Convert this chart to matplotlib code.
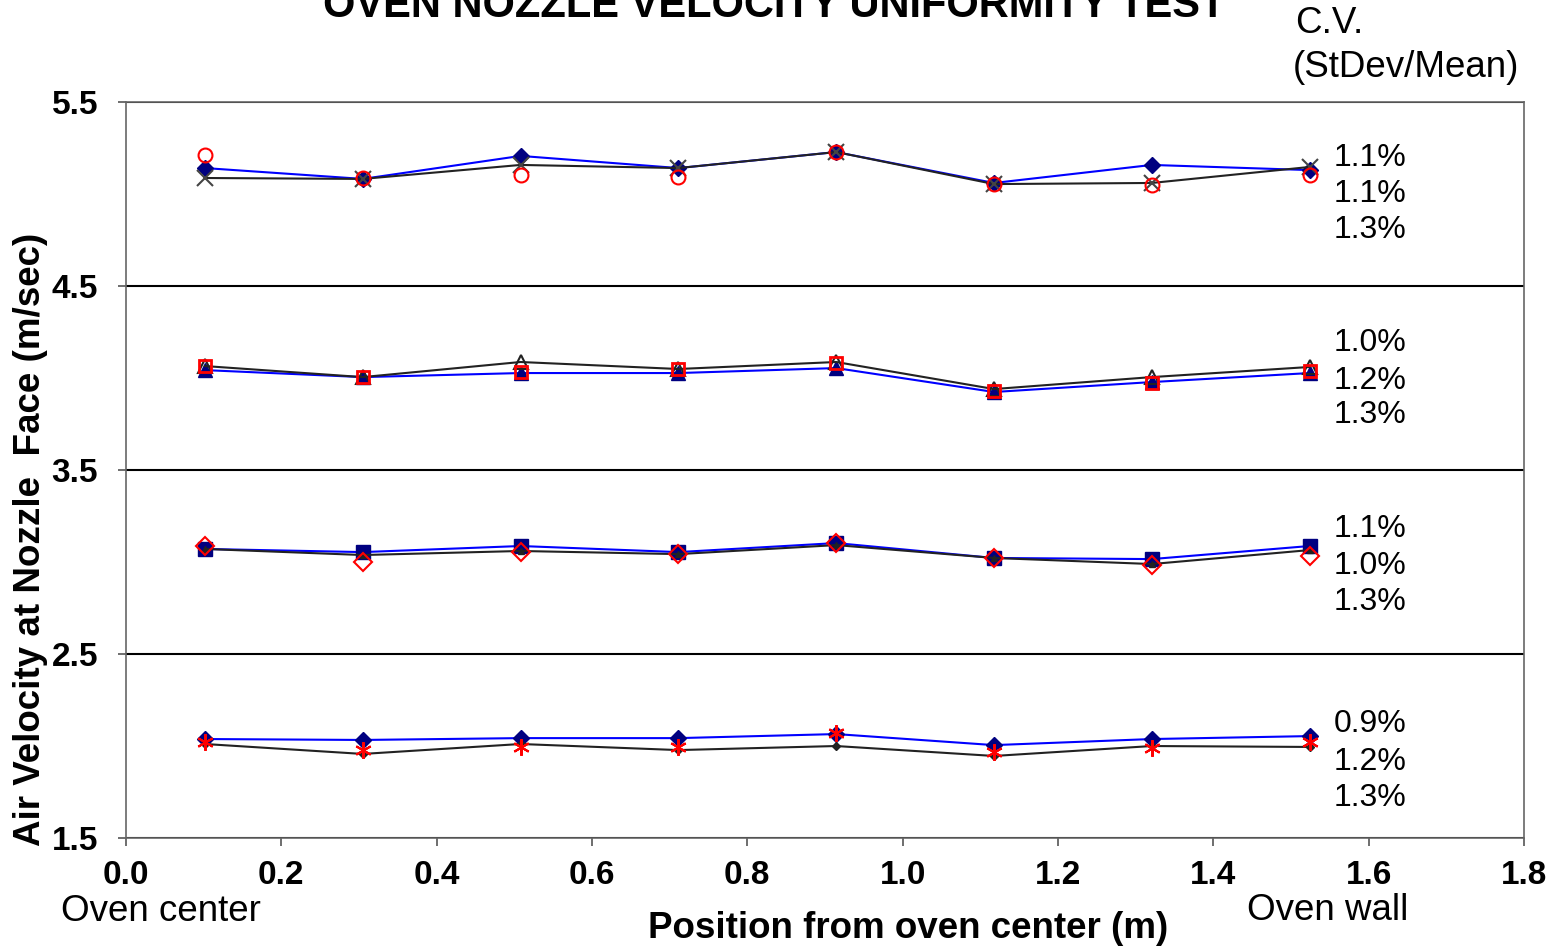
import numpy as np
import matplotlib.pyplot as plt

plt.rcParams['font.family'] = ['Liberation Sans', 'DejaVu Sans']

# Posiciones de medida (m)
x = np.array([0.1016, 0.3048, 0.508, 0.7112, 0.9144, 1.1176, 1.3208, 1.524])

# Grupo 1 (~5.1 m/s)
g1_blue = [5.141, 5.082, 5.207, 5.141, 5.228, 5.060, 5.158, 5.130]
g1_black = [5.087, 5.082, 5.158, 5.141, 5.228, 5.054, 5.060, 5.147]
g1_red = [5.212, 5.087, 5.103, 5.092, 5.228, 5.054, 5.049, 5.103]

# Grupo 2 (~4.0 m/s)
g2_blue = [4.043, 4.005, 4.027, 4.027, 4.054, 3.924, 3.978, 4.027]
g2_black = [4.065, 4.005, 4.087, 4.049, 4.087, 3.940, 4.005, 4.060]
g2_red = [4.065, 4.005, 4.033, 4.049, 4.082, 3.929, 3.973, 4.038]

# Grupo 3 (~3.05 m/s)
g3_blue = [3.071, 3.054, 3.087, 3.054, 3.103, 3.022, 3.016, 3.087]
g3_black = [3.071, 3.038, 3.060, 3.043, 3.092, 3.022, 2.989, 3.065]
g3_red = [3.087, 3.000, 3.054, 3.043, 3.103, 3.022, 2.984, 3.033]

# Grupo 4 (~2.0 m/s)
g4_blue = [2.038, 2.033, 2.043, 2.043, 2.065, 2.005, 2.038, 2.054]
g4_black = [2.011, 1.957, 2.011, 1.978, 2.000, 1.946, 2.000, 1.995]
g4_red = [2.022, 1.978, 1.995, 1.995, 2.071, 1.967, 1.989, 2.022]

# Coeficientes de variación
cv_labels = [['1.1%', '1.1%', '1.3%'],
             ['1.0%', '1.2%', '1.3%'],
             ['1.1%', '1.0%', '1.3%'],
             ['0.9%', '1.2%', '1.3%']]
cv_y = [[5.195, 5.0, 4.805],
        [4.19, 3.985, 3.80],
        [3.18, 2.98, 2.785],
        [2.12, 1.915, 1.715]]

navy = '#000080'
blue = '#0000ff'
dark = '#222222'
red = '#ff0000'

fig = plt.figure(figsize=(15.57, 9.48), dpi=100)
ax = fig.add_axes([0.0809, 0.116, 0.8979, 0.7764])

# Grupo 1
ax.plot(x, g1_blue, color=blue, lw=1.5, marker='D', ms=8, mfc=navy, mec=navy, zorder=3)
ax.plot(x, g1_black, color=dark, lw=1.5, marker='x', ms=11, mec='#444444', mew=1.5, zorder=3)
ax.plot(x, g1_red, ls='none', marker='o', ms=10, mfc='none', mec=red, mew=1.5, zorder=4)

# Grupo 2
ax.plot(x, g2_blue, color=blue, lw=1.5, marker='^', ms=10, mfc=navy, mec=navy, zorder=3)
ax.plot(x, g2_black, color=dark, lw=1.5, marker='^', ms=10, mfc='none', mec=dark, mew=1.5, zorder=3)
ax.plot(x, g2_red, ls='none', marker='s', ms=8, mfc='none', mec=red, mew=2, zorder=4)

# Grupo 3
ax.plot(x, g3_blue, color=blue, lw=1.5, marker='s', ms=10, mfc=navy, mec=navy, zorder=3)
ax.plot(x, g3_black, color=dark, lw=1.5, marker='^', ms=5, mfc=dark, mec=dark, zorder=3)
ax.plot(x, g3_red, ls='none', marker='D', ms=9, mfc='none', mec=red, mew=1.5, zorder=4)

# Grupo 4
ax.plot(x, g4_blue, color=blue, lw=1.5, marker='D', ms=8, mfc=navy, mec=navy, zorder=3)
ax.plot(x, g4_black, color=dark, lw=1.5, marker='D', ms=4, mfc=dark, mec=dark, zorder=3)
ax.plot(x, g4_red, ls='none', marker=(6, 2, 0), ms=12, mec=red, mew=1.5, zorder=4)

ax.set_xlim(0, 1.8)
ax.set_ylim(1.5, 5.5)
ax.set_xticks(np.arange(0, 1.81, 0.2))
ax.set_xticklabels([f'{v:.1f}' for v in np.arange(0, 1.81, 0.2)])
ax.set_yticks([1.5, 2.5, 3.5, 4.5, 5.5])
ax.yaxis.grid(True, color='black', lw=1.5)
ax.set_axisbelow(True)
ax.tick_params(labelsize=24, length=6, width=1.2, color='#555555')
ax.tick_params(axis='x', pad=10)
ax.tick_params(axis='y', pad=14)
for lab in ax.get_xticklabels() + ax.get_yticklabels():
    lab.set_fontweight('bold')
for sp in ax.spines.values():
    sp.set_color('#666666')
    sp.set_linewidth(1.2)

# Etiquetas de ejes
fig.text(0.0195, 0.431, 'Air Velocity at Nozzle  Face (m/sec)', fontsize=26.5,
         fontweight='bold', rotation=90, ha='center', va='center')
fig.text(0.583, 0.021, 'Position from oven center (m)', fontsize=26.5,
         fontweight='bold', ha='center', va='center')

# Etiquetas C.V.
for labs, ys in zip(cv_labels, cv_y):
    for lab, yy in zip(labs, ys):
        ax.text(1.649, yy, lab, fontsize=23, ha='right', va='center', clip_on=False)

fig.text(0.1034, 0.038, 'Oven center', fontsize=26.5, ha='center', va='center')
fig.text(0.8529, 0.040, 'Oven wall', fontsize=26.5, ha='center', va='center')
fig.text(0.4975, 0.994, 'OVEN NOZZLE VELOCITY UNIFORMITY TEST', fontsize=30,
         fontweight='bold', ha='center', va='center')
fig.text(0.8317, 0.975, 'C.V.', fontsize=26.5, ha='left', va='center')
fig.text(0.8305, 0.929, '(StDev/Mean)', fontsize=26.5, ha='left', va='center')

fig.savefig('out.png', dpi=100)
